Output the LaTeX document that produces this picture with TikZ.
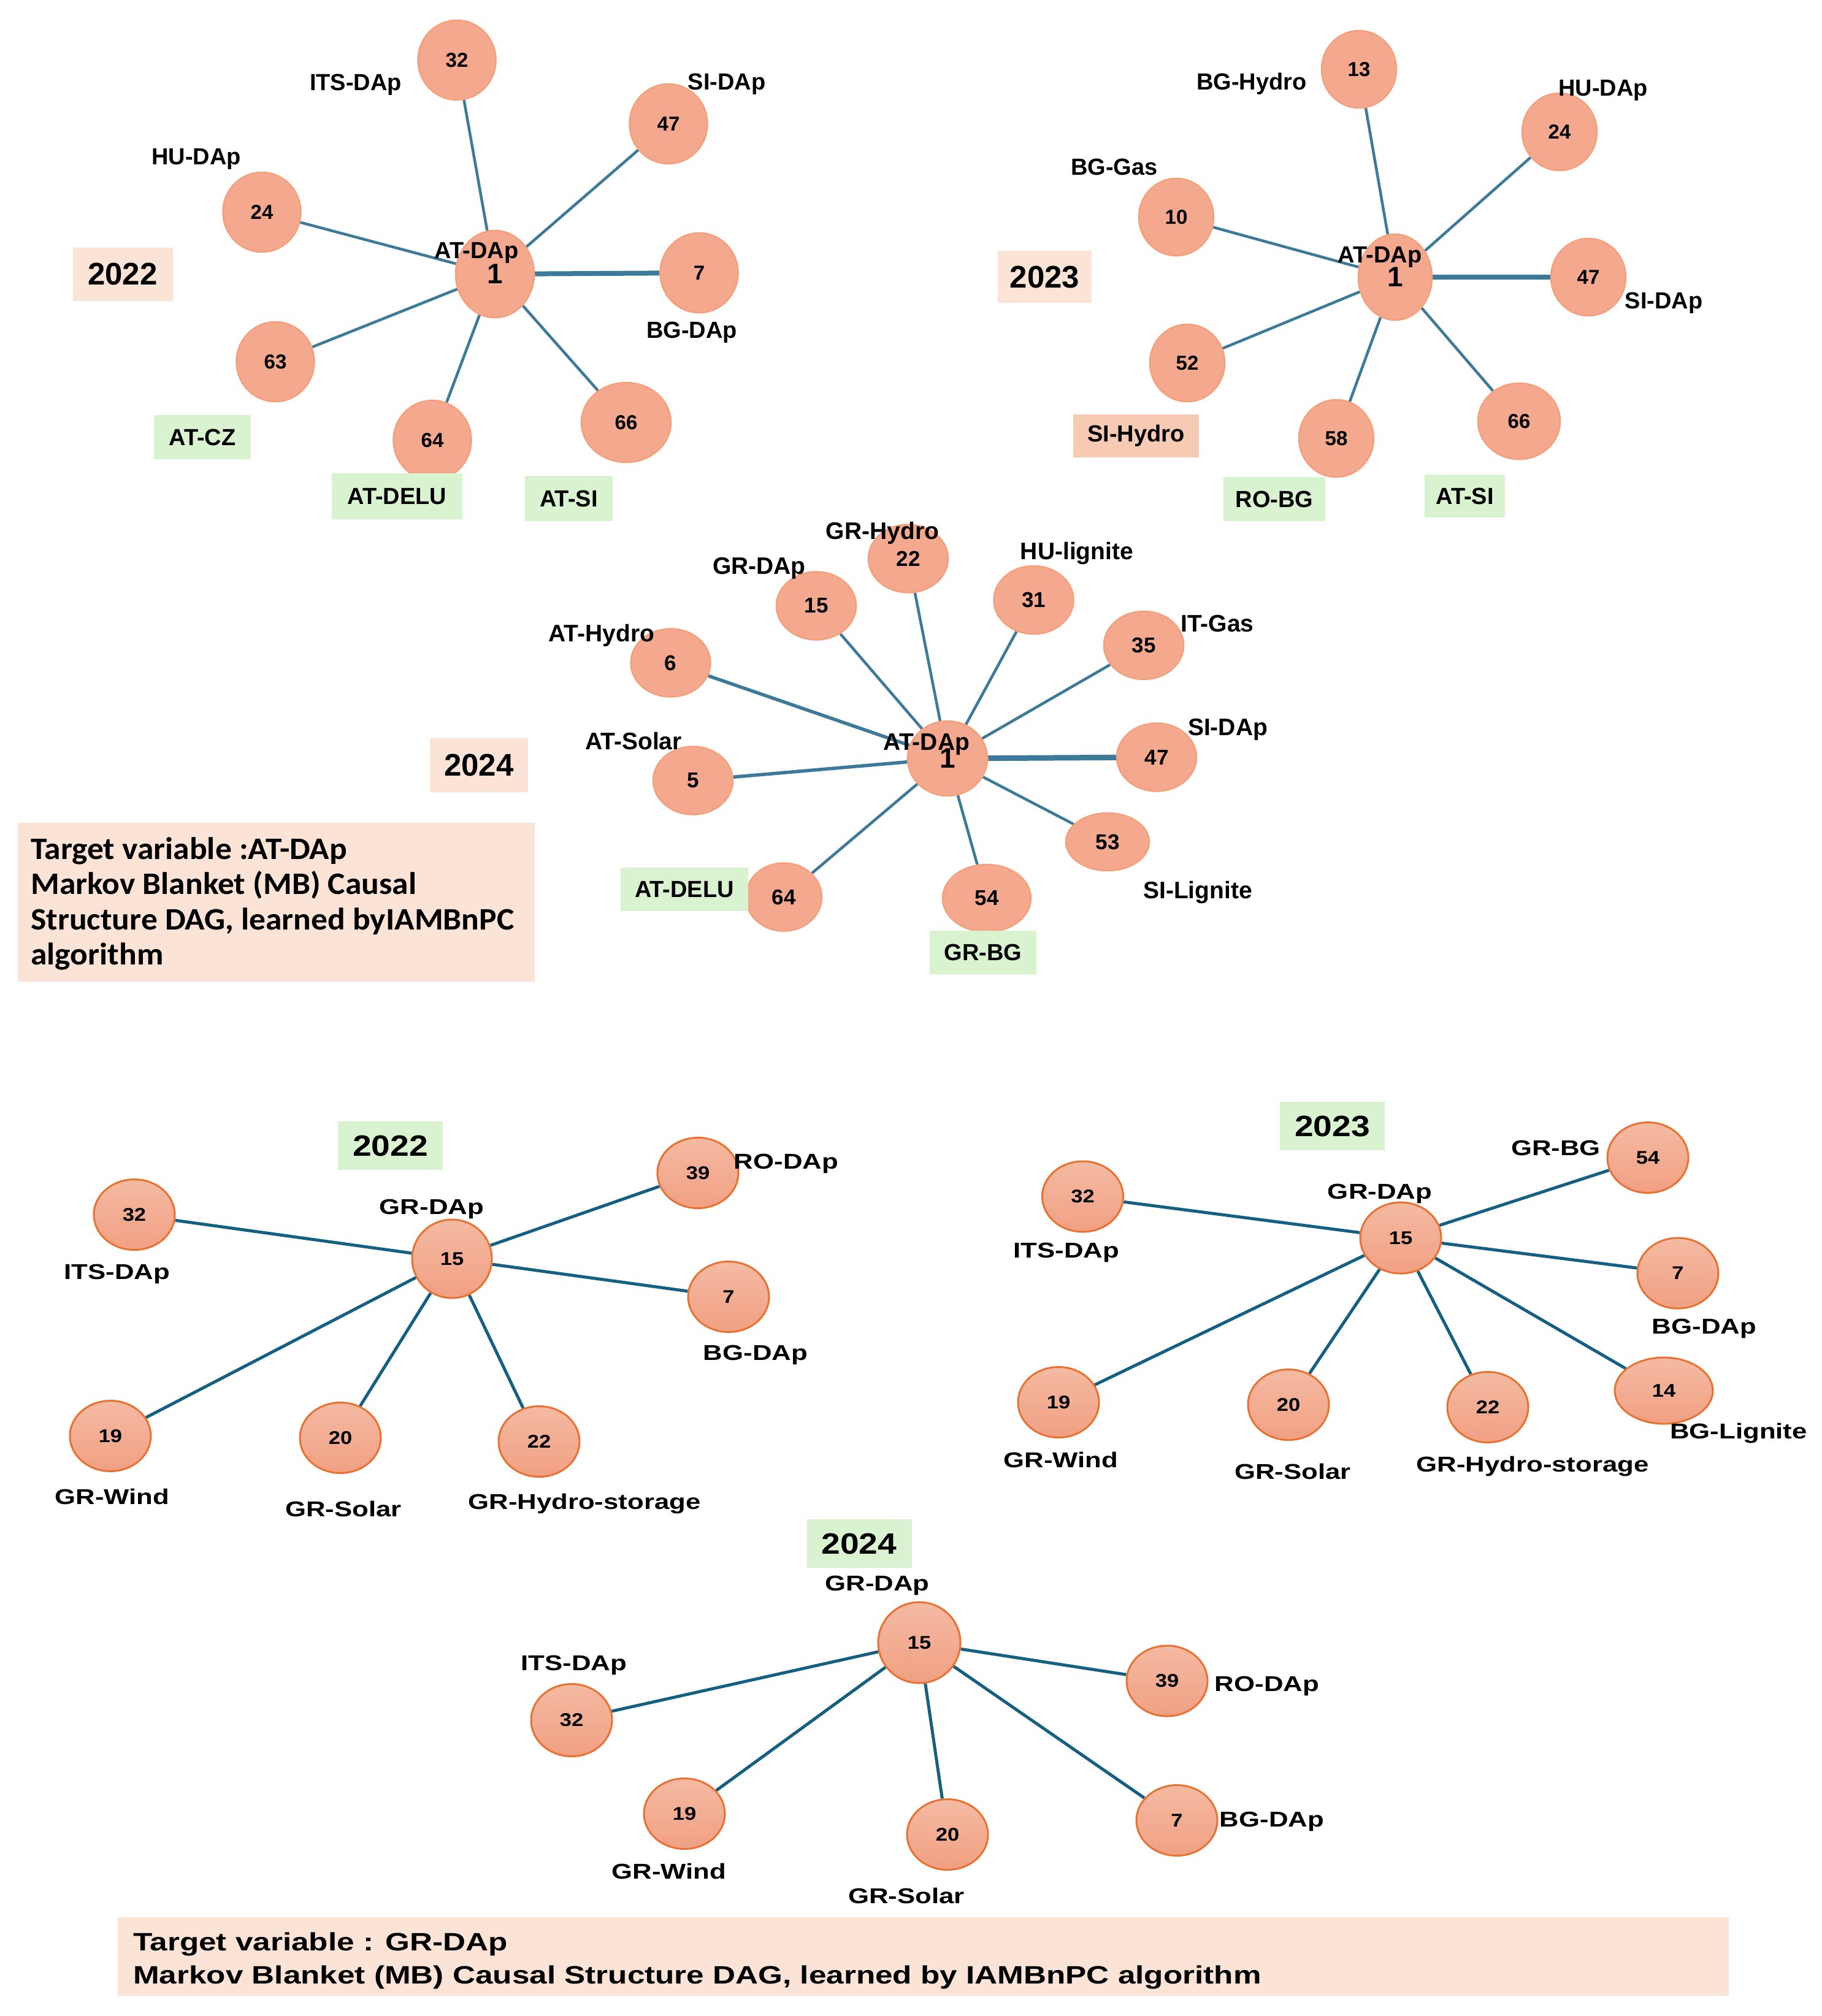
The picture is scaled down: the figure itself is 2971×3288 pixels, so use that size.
\documentclass[tikz,border=0pt]{standalone}
\usepackage{fontspec}
\setmainfont{Liberation Sans}
\newfontfamily\wa{Liberation Sans}[FakeStretch=1.15]
\newfontfamily\wb{Liberation Sans}[FakeStretch=1.25]
\newfontfamily\carl{Carlito}[FakeStretch=1.05]
\usetikzlibrary{shapes.geometric}
\pgfdeclarelayer{bg}
\pgfsetlayers{bg,main}
\definecolor{tfill}{HTML}{F4A98E}
\definecolor{tdraw}{HTML}{F5A07C}
\definecolor{tedge}{HTML}{3D7A99}
\definecolor{bedge}{HTML}{156082}
\definecolor{bdraw}{HTML}{E97132}
\definecolor{btop}{HTML}{F4BAA2}
\definecolor{bbot}{HTML}{F1A083}
\definecolor{gbox}{HTML}{D9F2D0}
\definecolor{sbox}{HTML}{FBE3D6}
\definecolor{sboxd}{HTML}{F7CBB3}
\newcommand\fTlab{\fontsize{38}{44}\selectfont\bfseries}
\newcommand\fMlab{\fontsize{39}{45}\selectfont\bfseries}
\newcommand\fTnum{\fontsize{33}{38}\selectfont\bfseries}
\newcommand\fMnum{\fontsize{35}{40}\selectfont\bfseries}
\newcommand\fTone{\fontsize{46}{52}\selectfont\bfseries}
\newcommand\fTyear{\fontsize{51}{58}\selectfont\bfseries}
\newcommand\fBlab{\wb\fontsize{35}{40}\selectfont\bfseries}
\newcommand\fBnum{\wa\fontsize{30}{36}\selectfont\bfseries}
\newcommand\fByear{\wa\fontsize{48}{56}\selectfont\bfseries}
\newcommand\fBbox{\wb\fontsize{41}{52}\selectfont\bfseries}
\newcommand\fDesc{\carl\fontsize{51}{57}\selectfont\bfseries}
\tikzset{
  tn/.style={ellipse, inner sep=0pt, minimum width=127pt, minimum height=130pt, fill=tfill, draw=tdraw, line width=2.5pt, font=\fTnum},
  mn/.style={tn, minimum width=130pt, minimum height=111pt, font=\fMnum},
  bn/.style={ellipse, inner sep=0pt, minimum width=132pt, minimum height=115pt, top color=btop, bottom color=bbot, draw=bdraw, line width=3pt, font=\fBnum},
  lab/.style={inner sep=0pt, font=\fTlab},
  mlab/.style={inner sep=0pt, font=\fMlab},
  blab/.style={inner sep=0pt, font=\fBlab},
  gb/.style={fill=gbox, inner sep=0pt, font=\fTlab},
  sb/.style={fill=sbox, inner sep=0pt, font=\fTyear},
  byr/.style={fill=gbox, inner sep=0pt, minimum width=171pt, minimum height=79pt, font=\fByear},
  te/.style={draw=tedge, line width=4.5pt},
  be/.style={draw=bedge, line width=5pt}
}
\begin{document}
\begin{tikzpicture}[x=1pt,y=-1pt]
\begin{pgfonlayer}{bg}
\fill[white] (0,0) rectangle (2971,3288);
\end{pgfonlayer}
\path[use as bounding box] (0,0) rectangle (2971,3288);

% ---------- Top-left 2022 (AT-DAp)
\node[tn, minimum width=128pt, minimum height=142pt, font=\fTone] (A1) at (807,447) {1};
\node[tn] (A32) at (745,98) {32};
\node[tn] (A47) at (1090,202) {47};
\node[tn] (A24) at (427,346) {24};
\node[tn] (A7) at (1140,445) {7};
\node[tn] (A63) at (449,590) {63};
\node[tn] (A64) at (705,718) {64};
\node[tn, minimum width=146pt] (A66) at (1021,689) {66};
\node[lab] (lA1) at (777,412) {AT-DAp};
\node[lab] (lA32) at (580,138) {ITS-DAp};
\node[lab] (lA47) at (1185,137) {SI-DAp};
\node[lab] (lA24) at (320,259) {HU-DAp};
\node[lab] (lA7) at (1128,542) {BG-DAp};
\node[sb, minimum width=163pt, minimum height=87pt] (yA) at (200,447) {2022};
\node[gb, minimum width=158pt, minimum height=72pt] (bA63) at (330,713) {AT-CZ};
\node[gb, minimum width=213pt, minimum height=75pt] (bA64) at (647.5,809.5) {AT-DELU};
\node[gb, minimum width=143pt, minimum height=74pt] (bA66) at (927.5,813) {AT-SI};

% ---------- Top-right 2023 (AT-DAp)
\node[tn, minimum width=120pt, minimum height=140pt, font=\fTone] (B1) at (2275,452) {1};
\node[tn, minimum width=122pt, minimum height=126pt] (B13) at (2216,113) {13};
\node[tn, minimum width=122pt, minimum height=126pt] (B24) at (2543,215) {24};
\node[tn, minimum width=122pt, minimum height=126pt] (B10) at (1918,354) {10};
\node[tn, minimum width=122pt, minimum height=126pt] (B47) at (2590,452) {47};
\node[tn, minimum width=122pt, minimum height=126pt] (B52) at (1936,592) {52};
\node[tn, minimum width=122pt, minimum height=126pt] (B58) at (2179,715) {58};
\node[tn, minimum width=134pt, minimum height=124pt] (B66) at (2477,687) {66};
\node[lab] (lB1) at (2250,419) {AT-DAp};
\node[lab] (lB13) at (2041,137) {BG-Hydro};
\node[lab] (lB24) at (2614,147) {HU-DAp};
\node[lab] (lB10) at (1817,272) {BG-Gas};
\node[lab] (lB47) at (2713,494) {SI-DAp};
\node[sb, minimum width=153pt, minimum height=85pt] (yB) at (1703.5,451.5) {2023};
\node[gb, fill=sboxd, minimum width=205pt, minimum height=70pt] (bB52) at (1852.5,711) {SI-Hydro};
\node[gb, minimum width=166pt, minimum height=72pt] (bB58) at (2078,814) {RO-BG};
\node[gb, minimum width=131pt, minimum height=70pt] (bB66) at (2388.5,809) {AT-SI};

% ---------- Middle 2024 (AT-DAp)
\node[mn, minimum width=130pt, minimum height=122pt, font=\fTone] (C1) at (1545,1237) {1};
\node[mn] (C22) at (1481,911) {22};
\node[mn] (C15) at (1331,988) {15};
\node[mn] (C31) at (1685.5,978.5) {31};
\node[mn] (C35) at (1865,1052.5) {35};
\node[mn] (C6) at (1093.5,1081) {6};
\node[mn] (C47) at (1886,1235) {47};
\node[mn] (C5) at (1130,1273) {5};
\node[mn, minimum width=136pt, minimum height=94pt] (C53) at (1806,1373) {53};
\node[mn, minimum width=124pt] (C64) at (1278,1463) {64};
\node[mn, minimum width=144pt, minimum height=110pt] (C54) at (1609,1465) {54};
\node[mlab] (lC1) at (1511,1214) {AT-DAp};
\node[mlab] (lC22) at (1439,869) {GR-Hydro};
\node[mlab] (lC15) at (1238,927) {GR-DAp};
\node[mlab] (lC31) at (1756,902) {HU-lignite};
\node[mlab] (lC35) at (1985,1017) {IT-Gas};
\node[mlab] (lC6) at (981,1036) {AT-Hydro};
\node[mlab] (lC47) at (2002,1190) {SI-DAp};
\node[mlab] (lC5) at (1033,1209) {AT-Solar};
\node[mlab] (lC53) at (1953,1455) {SI-Lignite};
\node[sb, minimum width=160pt, minimum height=88pt] (yC) at (781,1248) {2024};
\node[gb, minimum width=208pt, minimum height=71pt] (bC64) at (1116,1450.5) {AT-DELU};
\node[gb, minimum width=174pt, minimum height=71pt] (bC54) at (1603,1553.5) {GR-BG};
\node[fill=sbox, inner sep=0pt, minimum width=843pt, minimum height=259pt] (descbox) at (450.5,1471.5) {};
\node[anchor=base west, inner sep=0pt, font=\fDesc] (d1) at (50,1401) {Target variable :AT-DAp};
\node[anchor=base west, inner sep=0pt, font=\fDesc] (d2) at (50,1458) {Markov Blanket (MB) Causal};
\node[anchor=base west, inner sep=0pt, font=\fDesc] (d3) at (50,1516) {Structure DAG, learned byIAMBnPC};
\node[anchor=base west, inner sep=0pt, font=\fDesc] (d4) at (50,1573) {algorithm};

% ---------- Bottom-left 2022 (GR-DAp)
\node[bn, minimum width=130pt, minimum height=128pt] (D15) at (737,2053) {15};
\node[bn] (D32) at (219,1981) {32};
\node[bn] (D39) at (1138,1913) {39};
\node[bn] (D7) at (1188,2115) {7};
\node[bn] (D19) at (180,2342) {19};
\node[bn] (D20) at (555,2345) {20};
\node[bn] (D22) at (879,2351) {22};
\node[blab] (lD15) at (704,1972) {GR-DAp};
\node[blab] (lD32) at (191,2078) {ITS-DAp};
\node[blab] (lD39) at (1282,1898) {RO-DAp};
\node[blab] (lD7) at (1232,2210) {BG-DAp};
\node[blab] (lD19) at (183,2441) {GR-Wind};
\node[blab] (lD20) at (560,2461) {GR-Solar};
\node[blab] (lD22) at (953,2452) {GR-Hydro-storage};
\node[byr] (yD) at (636.5,1868.5) {2022};

% ---------- Bottom-right 2023 (GR-DAp)
\node[bn, minimum height=116pt] (E15) at (2284,2019) {15};
\node[bn] (E32) at (1765.5,1951.5) {32};
\node[bn] (E54) at (2687,1888) {54};
\node[bn] (E7) at (2736,2076.5) {7};
\node[bn, minimum width=160pt, minimum height=108pt] (E14) at (2713,2268) {14};
\node[bn] (E19) at (1726,2287) {19};
\node[bn] (E20) at (2101,2291) {20};
\node[bn] (E22) at (2426,2295) {22};
\node[blab] (lE15) at (2250,1947) {GR-DAp};
\node[blab] (lE54) at (2537,1872) {GR-BG};
\node[blab] (lE32) at (1739,2043) {ITS-DAp};
\node[blab] (lE7) at (2779,2167) {BG-DAp};
\node[blab] (lE14) at (2835,2337) {BG-Lignite};
\node[blab] (lE19) at (1730,2381) {GR-Wind};
\node[blab] (lE20) at (2108,2400) {GR-Solar};
\node[blab] (lE22) at (2499,2391) {GR-Hydro-storage};
\node[byr] (yE) at (2172.5,1836.5) {2023};

% ---------- Bottom-centre 2024 (GR-DAp)
\node[bn, minimum width=134pt, minimum height=132pt] (F15) at (1499,2679) {15};
\node[bn, minimum height=118pt] (F32) at (932,2805.5) {32};
\node[bn] (F39) at (1903,2741.5) {39};
\node[bn] (F19) at (1116,2958) {19};
\node[bn] (F20) at (1545,2992) {20};
\node[bn] (F7) at (1919,2969) {7};
\node[blab] (lF15) at (1430.5,2586) {GR-DAp};
\node[blab] (lF32) at (936,2716) {ITS-DAp};
\node[blab] (lF39) at (2066,2750) {RO-DAp};
\node[blab] (lF19) at (1091,3052) {GR-Wind};
\node[blab] (lF20) at (1478,3092) {GR-Solar};
\node[blab] (lF7) at (2074,2971) {BG-DAp};
\node[byr] (yF) at (1401,2517.5) {2024};
\node[fill=sbox, inner sep=0pt, minimum width=2627pt, minimum height=128pt] (botbox) at (1505.5,3191) {};
\node[anchor=base west, inner sep=0pt, font=\fBbox] (t1) at (217,3181) {Target variable : GR-DAp};
\node[anchor=base west, inner sep=0pt, font=\fBbox] (t2) at (217,3235) {Markov Blanket (MB) Causal Structure DAG, learned by IAMBnPC algorithm};

% ---------- edges
\begin{pgfonlayer}{bg}
\draw[te] (A1) -- (A32);
\draw[te] (A1) -- (A47);
\draw[te] (A1) -- (A24);
\draw[te, line width=8pt] (A1) -- (A7);
\draw[te] (A1) -- (A63);
\draw[te] (A1) -- (A64);
\draw[te] (A1) -- (A66);
\draw[te] (B1) -- (B13);
\draw[te] (B1) -- (B24);
\draw[te] (B1) -- (B10);
\draw[te, line width=7.5pt] (B1) -- (B47);
\draw[te] (B1) -- (B52);
\draw[te] (B1) -- (B58);
\draw[te] (B1) -- (B66);
\draw[te] (C1) -- (C22);
\draw[te] (C1) -- (C15);
\draw[te] (C1) -- (C31);
\draw[te] (C1) -- (C35);
\draw[te, line width=5.5pt] (C1) -- (C6);
\draw[te, line width=9pt] (C1) -- (C47);
\draw[te, line width=5.5pt] (C1) -- (C5);
\draw[te] (C1) -- (C53);
\draw[te] (C1) -- (C64);
\draw[te] (C1) -- (C54);
\draw[be] (D15) -- (D32);
\draw[be] (D15) -- (D39);
\draw[be] (D15) -- (D7);
\draw[be] (D15) -- (D19);
\draw[be] (D15) -- (D20);
\draw[be] (D15) -- (D22);
\draw[be] (E15) -- (E32);
\draw[be] (E15) -- (E54);
\draw[be] (E15) -- (E7);
\draw[be] (E15) -- (E14);
\draw[be] (E15) -- (E19);
\draw[be] (E15) -- (E20);
\draw[be] (E15) -- (E22);
\draw[be] (F15) -- (F32);
\draw[be] (F15) -- (F39);
\draw[be] (F15) -- (F19);
\draw[be] (F15) -- (F20);
\draw[be] (F15) -- (F7);
\end{pgfonlayer}
\end{tikzpicture}
\end{document}
